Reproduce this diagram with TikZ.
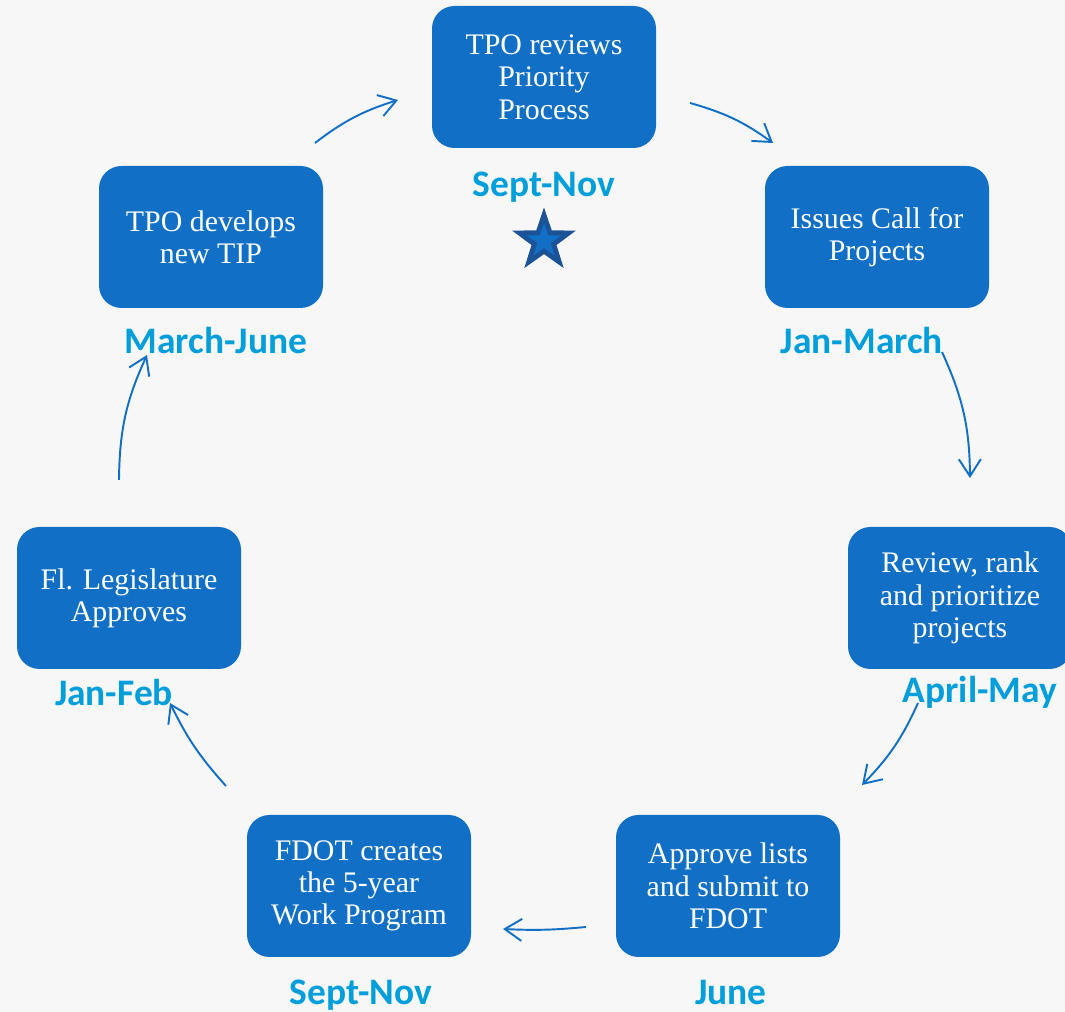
\documentclass[tikz,border=0pt]{standalone}
\usepackage{fontspec}
\setmainfont{Liberation Serif}
\newfontfamily\datefont{Carlito}
\usetikzlibrary{
  arrows.meta,
  shapes.geometric, % Shape "star"
  positioning,
}
\definecolor{boxblue}{RGB}{17,112,197}
\definecolor{dateblue}{RGB}{0,158,219}
\definecolor{stardark}{RGB}{28,82,150}
\definecolor{paper}{RGB}{247,247,247}
\def\myboxw{4.48cm}
\def\myboxh{2.84cm}
\def\mystar{1.34cm}
\tikzset{
  semithick,
  >={Straight Barb[length=3.4mm,width=4.4mm]},
  my box/.style={
    rectangle,
    rounded corners=4.5mm,
    fill=boxblue,
    minimum width=\myboxw,
    minimum height=\myboxh,
    text=white,
    align=center,
    font=\fontsize{17}{18.4}\selectfont
  },
  my date/.style={
    text=dateblue,
    inner sep=0pt,
    font=\datefont\bfseries\fontsize{21.3}{24}\selectfont
  },
  my arrow/.style={
    draw=boxblue,
    line width=1.1pt,
    bend left=#1
  },
  my arrow/.default=12,
  my star/.style={
    star,
    star points=5,
    star point ratio=2.55,
    inner sep=0pt
  }
}

\begin{document}
\begin{tikzpicture}
\useasboundingbox[fill=paper] (0,0) rectangle (21.3,20.24);
% steps of the cycle
\node[my box] (tpo)   at (10.88,18.70) {TPO reviews\\Priority\\Process};
\node[my box] (call)  at (17.54,15.50) {Issues Call for\\Projects};
\node[my box] (rank)  at (19.20, 8.28) {Review, rank\\and prioritize\\projects};
\node[my box] (appr)  at (14.56, 2.52) {Approve lists\\and submit to\\FDOT};
\node[my box] (fdot)  at ( 7.18, 2.52) {FDOT creates\\the 5-year\\Work Program};
\node[my box] (legis) at ( 2.58, 8.28) {Fl. Legislature\\Approves};
\node[my box] (tip)   at ( 4.22,15.50) {TPO develops\\new TIP};
% months
\node[my date] (d1) at (10.88,16.50) {Sept-Nov};
\node[my date] (d2) at (17.24,13.43) {Jan-March};
\node[my date] (d3) at (19.60, 6.39) {April-May};
\node[my date] (d4) at (14.62, 0.38) {June};
\node[my date] (d5) at ( 7.22, 0.34) {Sept-Nov};
\node[my date] (d6) at ( 2.28, 6.39) {Jan-Feb};
\node[my date] (d7) at ( 4.32,13.43) {March-June};
% star under the first step
\node[my star,fill=stardark,minimum size=\mystar]   (st)   at (10.88,15.42) {};
\node[my star,fill=boxblue,minimum size=0.72cm]     (stin) at (st.center) {};
% arrow ends
\coordinate (a1s) at ( 6.30,17.38); \coordinate (a1e) at ( 7.96,18.24);
\coordinate (a2s) at (13.80,18.18); \coordinate (a2e) at (15.46,17.38);
\coordinate (a3s) at (18.84,13.20); \coordinate (a3e) at (19.40,10.68);
\coordinate (a4s) at (18.36, 6.18); \coordinate (a4e) at (17.24, 4.54);
\coordinate (a5s) at (11.72, 1.70); \coordinate (a5e) at (10.06, 1.66);
\coordinate (a6s) at ( 4.52, 4.52); \coordinate (a6e) at ( 3.40, 6.18);
\coordinate (a7s) at ( 2.38,10.64); \coordinate (a7e) at ( 2.94,13.14);
\path[->] (a1s) edge[my arrow=10] (a1e)
          (a2s) edge[my arrow=10] (a2e)
          (a3s) edge[my arrow=12] (a3e)
          (a4s) edge[my arrow=10] (a4e)
          (a5s) edge[my arrow=4]  (a5e)
          (a6s) edge[my arrow=8]  (a6e)
          (a7s) edge[my arrow=12] (a7e);
\end{tikzpicture}
\end{document}
